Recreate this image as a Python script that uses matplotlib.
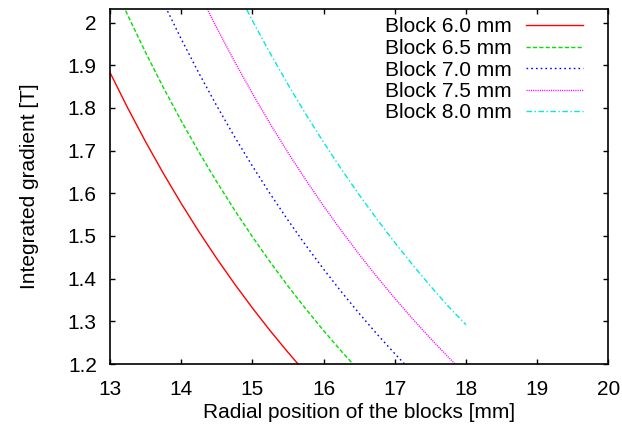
import matplotlib
matplotlib.use("Agg")
import matplotlib.pyplot as plt
from matplotlib.lines import Line2D

# Integrated gradient vs. radial position of the blocks, one curve per block size
block_labels = ["Block 6.0 mm", "Block 6.5 mm", "Block 7.0 mm", "Block 7.5 mm", "Block 8.0 mm"]

radius_60 = [13.0, 13.25, 13.5, 13.75, 14.0, 14.25, 14.5, 14.75, 15.0, 15.25, 15.5, 15.75]
grad_60 = [1.8829, 1.7994, 1.7207, 1.6464, 1.5762, 1.5098, 1.4470, 1.3876, 1.3313, 1.2779,
           1.2273, 1.1792]

radius_65 = [13.0, 13.25, 13.5, 13.75, 14.0, 14.25, 14.5, 14.75, 15.0, 15.25, 15.5, 15.75,
             16.0, 16.25, 16.5]
grad_65 = [2.1092, 2.0169, 1.9298, 1.8475, 1.7698, 1.6963, 1.6266, 1.5607, 1.4982, 1.4389,
           1.3826, 1.3291, 1.2783, 1.2299, 1.1839]

radius_70 = [13.75, 14.0, 14.25, 14.5, 14.75, 15.0, 15.25, 15.5, 15.75, 16.0, 16.25, 16.5,
             16.75, 17.0, 17.25]
grad_70 = [2.0467, 1.9616, 1.8810, 1.8047, 1.7324, 1.6638, 1.5987, 1.5369, 1.4781, 1.4223,
           1.3691, 1.3185, 1.2702, 1.2243, 1.1804]

radius_75 = [14.25, 14.5, 14.75, 15.0, 15.25, 15.5, 15.75, 16.0, 16.25, 16.5, 16.75, 17.0,
             17.25, 17.5, 17.75, 18.0]
grad_75 = [2.0703, 1.9873, 1.9086, 1.8338, 1.7629, 1.6954, 1.6313, 1.5703, 1.5123, 1.4570,
           1.4042, 1.3540, 1.3060, 1.2602, 1.2165, 1.1747]

radius_80 = [14.75, 15.0, 15.25, 15.5, 15.75, 16.0, 16.25, 16.5, 16.75, 17.0, 17.25, 17.5,
             17.75, 18.0]
grad_80 = [2.0854, 2.0046, 1.9279, 1.8549, 1.7854, 1.7194, 1.6564, 1.5964, 1.5393, 1.4847,
           1.4326, 1.3829, 1.3354, 1.2920]

x_ticks = [13, 14, 15, 16, 17, 18, 19, 20]
y_ticks = [1.2, 1.3, 1.4, 1.5, 1.6, 1.7, 1.8, 1.9, 2.0]
y_tick_labels = ["1.2", "1.3", "1.4", "1.5", "1.6", "1.7", "1.8", "1.9", "2"]

series = [
    (radius_60, grad_60, "#ff0000", (None, None)),
    (radius_65, grad_65, "#00e000", (3.0, 1.6)),
    (radius_70, grad_70, "#0000ff", (1.2, 2.2)),
    (radius_75, grad_75, "#ff00ff", (0.8, 0.8)),
    (radius_80, grad_80, "#00e8e8", (4.0, 1.8, 1.0, 1.8)),
]

plt.rcParams["font.family"] = ["Liberation Sans", "DejaVu Sans"]
FS = 15

W, H = 622, 432
fig = plt.figure(figsize=(W / 100, H / 100), dpi=100)
left, right, bottom, top = 110, 608.3, 364, 9.3
ax = fig.add_axes([left / W, (H - bottom) / H, (right - left) / W, (bottom - top) / H])

for (xs, ys, color, dash), label in zip(series, block_labels):
    line, = ax.plot(xs, ys, color=color, lw=1.0, label=label)
    if dash[0] is not None:
        line.set_dashes(dash)

ax.set_xlim(13, 20)
ax.set_ylim(1.2, 2.031)
ax.set_xticks(x_ticks)
ax.set_xticklabels([str(t) for t in x_ticks])
ax.set_yticks(y_ticks)
ax.set_yticklabels(y_tick_labels)
ax.tick_params(direction="in", length=3.5, width=1.0, top=True, right=True,
               labelsize=FS, colors="black")
ax.tick_params(axis="x", pad=11.5)
ax.tick_params(axis="y", pad=9.5)
for s in ax.spines.values():
    s.set_linewidth(1.2)

ax.set_xlabel("Radial position of the blocks [mm]", fontsize=FS)
ax.set_ylabel("Integrated gradient [T]", fontsize=FS)
ax.xaxis.set_label_coords(0.5, (bottom - 403) / (bottom - top))
ax.yaxis.set_label_coords((39 - left) / (right - left), 0.5)

# Key: label text on the left, line sample on the right
row_y = [25.3, 46.8, 68.3, 89.7, 111.0]
text_right, samp_l, samp_r = 511.7, 525.7, 582.7
def ax_x(px):
    return (px - left) / (right - left)
def ax_y(py):
    return (bottom - py) / (bottom - top)
for (xs, ys, color, dash), label, ry in zip(series, block_labels, row_y):
    ax.text(ax_x(text_right), ax_y(ry + 7.2), label, transform=ax.transAxes,
            ha="right", va="baseline", fontsize=FS)
    ln = Line2D([ax_x(samp_l), ax_x(samp_r)], [ax_y(ry), ax_y(ry)],
                transform=ax.transAxes, color=color, lw=1.0)
    if dash[0] is not None:
        ln.set_dashes(dash)
    ax.add_line(ln)

fig.savefig("out.png", dpi=100)
